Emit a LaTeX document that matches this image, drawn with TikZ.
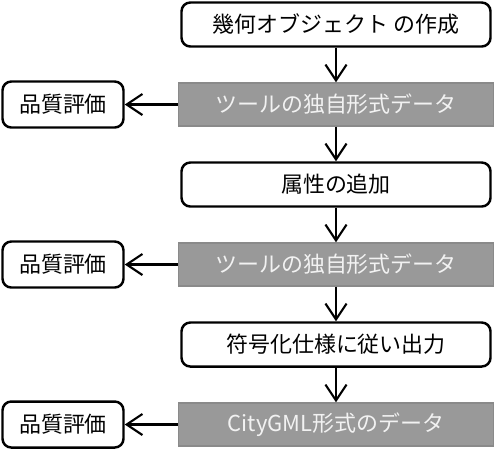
\documentclass[tikz,border=0pt]{standalone}
\usepackage{fontspec}
\setmainfont{Noto Sans CJK JP}
\usepackage{tikz}
\usetikzlibrary{positioning}
\usetikzlibrary{arrows.meta}
\definecolor{boxgray}{HTML}{999999}
\definecolor{edgegray}{HTML}{8A8A8A}
\definecolor{textgray}{HTML}{F2F2F2}
\tikzset{
    node distance = 1.6cm,
    on grid,
    flow/.style = {-{Straight Barb[length=9pt,width=12pt,line width=1.2pt]}, line width=1.2pt},
    white node/.style={shape=rectangle,draw=black,fill=white,line width=1.4pt,rounded corners=5pt,
        minimum width=6.18cm,minimum height=0.88cm,font=\fontsize{12.5}{15}\selectfont},
    gray node/.style={shape=rectangle,draw=edgegray,fill=boxgray,line width=0.8pt,text=textgray,
        minimum width=6.3cm,minimum height=0.86cm,font=\fontsize{12.5}{15}\selectfont},
    eval node/.style={shape=rectangle,draw=black,fill=white,line width=1.4pt,rounded corners=5pt,
        minimum width=2.42cm,minimum height=0.92cm,font=\fontsize{12.5}{15}\selectfont}
}
\begin{document}
\begin{tikzpicture}
    \useasboundingbox (0,0) rectangle (10,-9.02);
    \node(make)[white node] at (6.72,-0.49) {幾何オブジェクト の作成};
    \node(tool1)[gray node,below=of make] {ツールの独自形式データ};
    \node(attr)[white node,below=of tool1] {属性の追加};
    \node(tool2)[gray node,below=of attr] {ツールの独自形式データ};
    \node(out)[white node,below=of tool2] {符号化仕様に従い出力};
    \node(gml)[gray node,below=of out] {CityGML形式のデータ};
    % quality checks
    \node(eval1)[eval node,left=5.46cm of tool1] {品質評価};
    \node(eval2)[eval node,left=5.46cm of tool2] {品質評価};
    \node(eval3)[eval node,left=5.46cm of gml] {品質評価};
    \draw[flow] (make) -- (tool1);
    \draw[flow] (tool1) -- (attr);
    \draw[flow] (attr) -- (tool2);
    \draw[flow] (tool2) -- (out);
    \draw[flow] (out) -- (gml);
    \draw[flow] (tool1) -- (eval1);
    \draw[flow] (tool2) -- (eval2);
    \draw[flow] (gml) -- (eval3);
\end{tikzpicture}
\end{document}
